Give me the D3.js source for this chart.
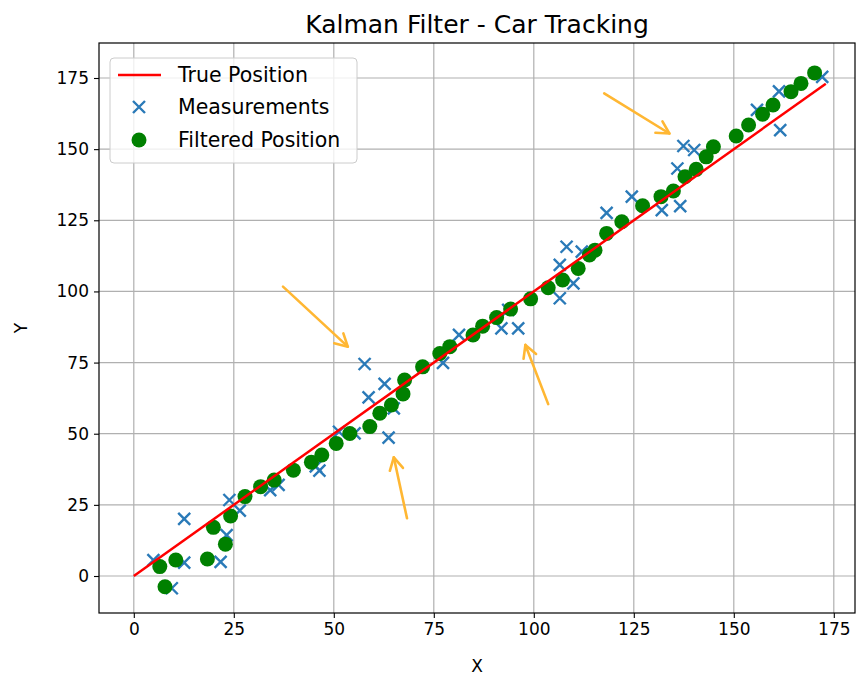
<!DOCTYPE html>
<html>
<head>
<meta charset="utf-8">
<script src="https://cdn.jsdelivr.net/npm/d3@7"></script>
<style>
  body { margin: 0; background: #fff; }
  text { font-family: "DejaVu Sans", sans-serif; }
</style>
</head>
<body>
<div id="chart"></div>
<script>
// True position (straight line y = x)
const trueX = [0, 173];
const trueY = [0, 173];

// Noisy measurements
const measX = [4.9, 9.5, 12.6, 12.6, 21.7, 23.2, 23.9, 26.5, 34.1, 36.2, 45.5, 46.4, 51.3, 55.2, 57.7, 58.7, 62.7, 63.7, 65.0, 77.3,
  81.3, 91.9, 93.6, 96.1, 106.5, 106.5, 108.2, 109.9, 112.0, 118.2, 124.5, 132.0, 135.9, 136.6, 137.4, 140.1, 155.8, 161.3, 161.6, 172.1];
const measY = [5.6, -4.3, 4.7, 20.1, 5.0, 14.4, 26.7, 23.0, 30.2, 32.0, 38.5, 37.0, 50.7, 50.1, 74.5, 62.8, 67.5, 48.6, 58.9, 74.9,
  84.7, 87.0, 93.5, 87.0, 97.6, 109.3, 115.7, 102.8, 114.0, 127.6, 133.3, 128.6, 143.2, 130.0, 151.1, 149.7, 163.8, 170.3, 156.7, 175.4];

// Kalman filtered estimates
const filtX = [6.5, 7.8, 10.5, 18.4, 19.9, 22.9, 24.2, 27.8, 31.7, 35.1, 39.9, 44.4, 47.0, 50.6, 54.0, 59.0, 61.5, 64.4, 67.3, 67.7,
  72.2, 76.5, 79.0, 84.8, 87.2, 90.7, 94.2, 99.2, 103.6, 107.2, 111.1, 113.9, 115.3, 118.2, 122.0, 127.2, 131.8, 134.9, 137.8, 140.6,
  143.1, 144.9, 150.6, 153.7, 157.2, 159.8, 164.3, 166.8, 170.2];
const filtY = [3.3, -3.8, 5.6, 6.0, 17.1, 11.2, 21.1, 27.9, 31.4, 33.7, 37.2, 40.0, 42.5, 46.6, 50.1, 52.5, 57.2, 60.1, 64.0, 68.9,
  73.5, 78.2, 80.6, 84.7, 87.8, 90.8, 93.8, 97.4, 101.3, 104.0, 108.1, 112.8, 114.5, 120.4, 124.5, 130.1, 133.3, 135.3, 140.3, 142.9,
  147.3, 150.8, 154.6, 158.5, 162.3, 165.5, 170.2, 173.1, 176.8];

// Annotation arrows (tail -> head)
const arrowTailX = [37.3, 68.3, 103.6, 117.6];
const arrowTailY = [101.7, 20.3, 60.4, 169.6];
const arrowHeadX = [53.5, 65.0, 97.9, 133.9];
const arrowHeadY = [80.6, 41.7, 81.2, 155.5];

const xTicks = [0, 25, 50, 75, 100, 125, 150, 175];
const yTicks = [0, 25, 50, 75, 100, 125, 150, 175];

const W = 856, H = 675;
const plot = { left: 99, right: 855, top: 43, bottom: 613 };

const svg = d3.select("#chart").append("svg")
    .attr("width", W)
    .attr("height", H);

const x = d3.scaleLinear().domain([-8.7, 180.3]).range([plot.left, plot.right]);
const y = d3.scaleLinear().domain([-13.0, 187.3]).range([plot.bottom, plot.top]);

// grid
svg.append("g").selectAll("line").data(xTicks).enter().append("line")
    .attr("x1", d => x(d)).attr("x2", d => x(d))
    .attr("y1", plot.top).attr("y2", plot.bottom)
    .attr("stroke", "#b0b0b0").attr("stroke-width", 1.2);
svg.append("g").selectAll("line").data(yTicks).enter().append("line")
    .attr("y1", d => y(d)).attr("y2", d => y(d))
    .attr("x1", plot.left).attr("x2", plot.right)
    .attr("stroke", "#b0b0b0").attr("stroke-width", 1.2);

// axes
const xAxis = svg.append("g")
    .attr("transform", `translate(0,${plot.bottom})`)
    .call(d3.axisBottom(x).tickValues(xTicks).tickSize(5).tickPadding(5));
const yAxis = svg.append("g")
    .attr("transform", `translate(${plot.left},0)`)
    .call(d3.axisLeft(y).tickValues(yTicks).tickSize(5).tickPadding(5));
[xAxis, yAxis].forEach(a => {
    a.select(".domain").remove();
    a.selectAll("line").attr("stroke", "#000").attr("stroke-width", 1.1);
    a.selectAll("text").attr("font-size", 17).attr("fill", "#000")
        .style("font-family", "DejaVu Sans");
});

// measurements (x markers)
const mk = 6;
svg.append("g").selectAll("path")
    .data(measX.map((d, i) => [d, measY[i]]))
    .enter().append("path")
    .attr("d", d => {
        const cx = x(d[0]), cy = y(d[1]);
        return `M${cx - mk},${cy - mk}L${cx + mk},${cy + mk}M${cx - mk},${cy + mk}L${cx + mk},${cy - mk}`;
    })
    .attr("stroke", "#2a7ab8").attr("stroke-width", 2.4).attr("fill", "none");

// filtered (green circles)
svg.append("g").selectAll("circle")
    .data(filtX.map((d, i) => [d, filtY[i]]))
    .enter().append("circle")
    .attr("cx", d => x(d[0])).attr("cy", d => y(d[1]))
    .attr("r", 7.5).attr("fill", "#008000");

// true line
svg.append("path")
    .datum(trueX.map((d, i) => [d, trueY[i]]))
    .attr("d", d3.line().x(d => x(d[0])).y(d => y(d[1])))
    .attr("stroke", "#ff0000").attr("stroke-width", 2.5).attr("fill", "none");

// arrows
const arrowColor = "#ffb733";
arrowTailX.forEach((tx, i) => {
    const x1 = x(tx), y1 = y(arrowTailY[i]);
    const x2 = x(arrowHeadX[i]), y2 = y(arrowHeadY[i]);
    const ang = Math.atan2(y2 - y1, x2 - x1);
    const hl = 14, spread = 0.5;
    const g = svg.append("g").attr("stroke", arrowColor).attr("stroke-width", 2.6)
        .attr("fill", "none").attr("stroke-linecap", "round").attr("stroke-linejoin", "round");
    g.append("line").attr("x1", x1).attr("y1", y1).attr("x2", x2).attr("y2", y2);
    g.append("path").attr("d",
        `M${x2 - hl * Math.cos(ang - spread)},${y2 - hl * Math.sin(ang - spread)}` +
        `L${x2},${y2}` +
        `L${x2 - hl * Math.cos(ang + spread)},${y2 - hl * Math.sin(ang + spread)}`);
});

// frame
svg.append("rect")
    .attr("x", plot.left).attr("y", plot.top)
    .attr("width", plot.right - plot.left).attr("height", plot.bottom - plot.top)
    .attr("fill", "none").attr("stroke", "#000").attr("stroke-width", 1.2);

// title and labels
svg.append("text").attr("x", (plot.left + plot.right) / 2).attr("y", 33)
    .attr("text-anchor", "middle").attr("font-size", 25).text("Kalman Filter - Car Tracking");
svg.append("text").attr("x", (plot.left + plot.right) / 2).attr("y", 672)
    .attr("text-anchor", "middle").attr("font-size", 17).text("X");
svg.append("text").attr("transform", `translate(27,${(plot.top + plot.bottom) / 2}) rotate(-90)`)
    .attr("text-anchor", "middle").attr("font-size", 17).text("Y");

// legend
const lg = svg.append("g").attr("transform", "translate(110,58)");
lg.append("rect").attr("width", 247).attr("height", 105).attr("rx", 4)
    .attr("fill", "#fff").attr("fill-opacity", 0.8)
    .attr("stroke", "#cccccc").attr("stroke-width", 1);
const rows = [17, 49, 82];
lg.append("line").attr("x1", 8).attr("x2", 51).attr("y1", rows[0]).attr("y2", rows[0])
    .attr("stroke", "#ff0000").attr("stroke-width", 2.5);
lg.append("path")
    .attr("d", `M${29 - mk},${rows[1] - mk}L${29 + mk},${rows[1] + mk}M${29 - mk},${rows[1] + mk}L${29 + mk},${rows[1] - mk}`)
    .attr("stroke", "#2a7ab8").attr("stroke-width", 2.4);
lg.append("circle").attr("cx", 29).attr("cy", rows[2]).attr("r", 7.5).attr("fill", "#008000");
["True Position", "Measurements", "Filtered Position"].forEach((t, i) => {
    lg.append("text").attr("x", 68).attr("y", rows[i]).attr("dy", "0.36em")
        .attr("font-size", 20.5).text(t);
});
</script>
</body>
</html>
